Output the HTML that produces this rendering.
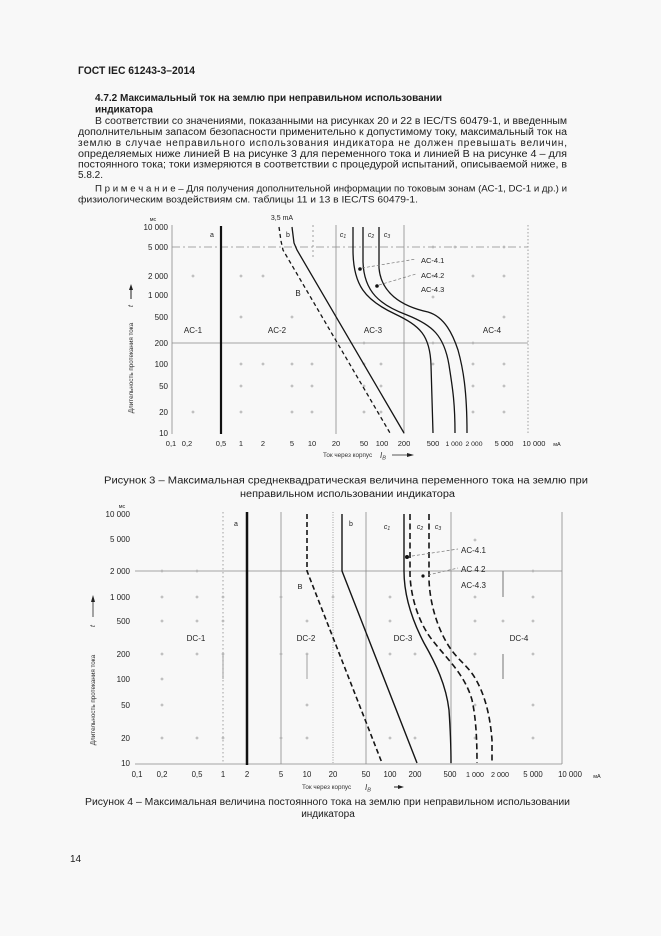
<!DOCTYPE html>
<html><head><meta charset="utf-8"><style>
html,body{margin:0;padding:0;background:#f8f8f8;}
svg{display:block;font-family:"Liberation Sans","DejaVu Sans",sans-serif;}
</style></head><body>
<svg width="661" height="936" viewBox="0 0 661 936" xmlns="http://www.w3.org/2000/svg">
<defs>
<path id="p" d="M-1.5,0h3M0,-1.5v3" stroke="#9a9a9a" stroke-width="0.7" fill="none"/>
</defs>
<rect width="661" height="936" fill="#f8f8f8"/>
<g fill="#1c1c1c">
<text x="78" y="74" font-size="11" font-weight="bold" textLength="117" lengthAdjust="spacingAndGlyphs">ГОСТ IEC 61243-3–2014</text>
<text x="95" y="101" font-size="10" font-weight="bold" textLength="347" lengthAdjust="spacingAndGlyphs">4.7.2  Максимальный ток на землю при неправильном использовании</text>
<text x="95" y="112.5" font-size="10" font-weight="bold">индикатора</text>
<text x="95" y="124" font-size="10" textLength="472" lengthAdjust="spacingAndGlyphs">В соответствии со значениями, показанными на рисунках 20 и 22 в IEC/TS 60479-1, и введенным</text>
<text x="78" y="135" font-size="10" textLength="489" lengthAdjust="spacingAndGlyphs">дополнительным  запасом  безопасности  применительно  к  допустимому  току,  максимальный  ток  на</text>
<text x="78" y="146" font-size="10" textLength="489" lengthAdjust="spacing">землю    в    случае    неправильного    использования    индикатора    не    должен    превышать    величин,</text>
<text x="78" y="157" font-size="10" textLength="489" lengthAdjust="spacingAndGlyphs">определяемых ниже линией В на рисунке 3 для переменного тока и линией В на рисунке 4 – для</text>
<text x="78" y="167.5" font-size="10" textLength="489" lengthAdjust="spacingAndGlyphs">постоянного тока; токи измеряются в соответствии с процедурой испытаний, описываемой ниже, в</text>
<text x="78" y="178" font-size="10">5.8.2.</text>
<text x="95" y="191.5" font-size="9" textLength="472" lengthAdjust="spacingAndGlyphs">П р и м е ч а н и е – Для получения дополнительной информации по токовым зонам (АС-1, DC-1 и др.) и</text>
<text x="78" y="202.5" font-size="9" textLength="340" lengthAdjust="spacingAndGlyphs">физиологическим воздействиям см. таблицы 11 и 13 в IEC/TS 60479-1.</text>
</g>

<!-- ============ CHART 1 ============ -->
<g stroke="#8a8a8a" stroke-width="0.8" fill="none">
<line x1="172" y1="225" x2="172" y2="434"/>
<line x1="336" y1="225" x2="336" y2="434"/>
<line x1="404" y1="225" x2="404" y2="434"/>
<line x1="528" y1="225" x2="528" y2="434" stroke-dasharray="1.5,2"/>
<line x1="313" y1="225" x2="313" y2="260" stroke-dasharray="2,3"/>
<line x1="172" y1="343" x2="528" y2="343"/>
<line x1="172" y1="247" x2="528" y2="247" stroke-dasharray="8,3,2,3"/>
</g>
<g>
<use href="#p" x="193" y="276"/><use href="#p" x="241" y="276"/><use href="#p" x="263" y="276"/><use href="#p" x="433" y="276"/><use href="#p" x="473" y="276"/><use href="#p" x="504" y="276"/>
<use href="#p" x="241" y="317"/><use href="#p" x="292" y="317"/><use href="#p" x="433" y="297"/><use href="#p" x="504" y="317"/>
<use href="#p" x="241" y="364"/><use href="#p" x="263" y="364"/><use href="#p" x="292" y="364"/><use href="#p" x="312" y="364"/><use href="#p" x="364" y="364"/><use href="#p" x="381" y="364"/><use href="#p" x="433" y="364"/><use href="#p" x="473" y="364"/><use href="#p" x="504" y="364"/>
<use href="#p" x="241" y="386"/><use href="#p" x="292" y="386"/><use href="#p" x="312" y="386"/><use href="#p" x="364" y="386"/><use href="#p" x="381" y="386"/><use href="#p" x="473" y="386"/><use href="#p" x="504" y="386"/>
<use href="#p" x="193" y="412"/><use href="#p" x="241" y="412"/><use href="#p" x="292" y="412"/><use href="#p" x="312" y="412"/><use href="#p" x="364" y="412"/><use href="#p" x="381" y="412"/><use href="#p" x="473" y="412"/><use href="#p" x="504" y="412"/>
<use href="#p" x="364" y="343"/><use href="#p" x="433" y="343"/><use href="#p" x="473" y="343"/><use href="#p" x="433" y="247"/><use href="#p" x="455" y="247"/><use href="#p" x="504" y="247"/>
</g>
<line x1="221" y1="226" x2="221" y2="434" stroke="#111" stroke-width="2.2"/>
<g fill="none" stroke="#151515" stroke-width="1.3">
<polyline points="292,227 294,243 297,250 404,433"/>
<polyline points="279,227 281,241 283,250 390,433" stroke-dasharray="4,3"/>
<path d="M353,227 L353,250 C353,285 365,300 395,314 C420,326 430,335 431,365 L433,433"/>
<path d="M363,227 L363,262 C364,292 380,305 407,315 C432,325 444,335 449,365 C452,385 455,400 455,433"/>
<path d="M379,227 L379,268 C381,292 400,306 428,312 C445,317 453,335 458,350 C463,368 467,390 467,433"/>
</g>
<g stroke="#777" stroke-width="0.7" stroke-dasharray="3,2" fill="none">
<line x1="362" y1="268" x2="416" y2="259"/>
<line x1="379" y1="285" x2="416" y2="274"/>
</g>
<circle cx="360" cy="269" r="1.8" fill="#111"/>
<circle cx="377" cy="286" r="1.8" fill="#111"/>
<g fill="#222" font-size="8">
<text x="168" y="230" text-anchor="end">10 000</text>
<text x="168" y="250" text-anchor="end">5 000</text>
<text x="168" y="279" text-anchor="end">2 000</text>
<text x="168" y="298" text-anchor="end">1 000</text>
<text x="168" y="320" text-anchor="end">500</text>
<text x="168" y="346" text-anchor="end">200</text>
<text x="168" y="367" text-anchor="end">100</text>
<text x="168" y="389" text-anchor="end">50</text>
<text x="168" y="415" text-anchor="end">20</text>
<text x="168" y="436" text-anchor="end">10</text>
<text x="153" y="221" font-size="5.5" text-anchor="middle">мс</text>
</g>
<g fill="#222" font-size="7.5" text-anchor="middle">
<text x="171" y="446">0,1</text><text x="187" y="446">0,2</text><text x="221" y="446">0,5</text><text x="241" y="446">1</text>
<text x="263" y="446">2</text><text x="292" y="446">5</text><text x="312" y="446">10</text><text x="336" y="446">20</text>
<text x="364" y="446">50</text><text x="382" y="446">100</text><text x="404" y="446">200</text><text x="433" y="446">500</text>
<text x="454" y="446" font-size="6.8">1 000</text><text x="474" y="446" font-size="6.8">2 000</text><text x="504" y="446">5 000</text><text x="534" y="446">10 000</text>
<text x="557" y="446" font-size="5.5">мА</text>
</g>
<g fill="#222" font-size="8" text-anchor="middle">
<text x="193" y="333">AC-1</text><text x="277" y="333">AC-2</text><text x="373" y="333">AC-3</text><text x="492" y="333">AC-4</text>
<text x="282" y="220" font-size="7">3,5 mA</text>
<text x="212" y="237" font-size="7">a</text>
<text x="288" y="237" font-size="7">b</text>
<text x="298" y="296">B</text>
<text x="343" y="237" font-size="7" font-style="italic">c<tspan font-size="5" dy="1">1</tspan></text>
<text x="371" y="237" font-size="7" font-style="italic">c<tspan font-size="5" dy="1">2</tspan></text>
<text x="387" y="237" font-size="7" font-style="italic">c<tspan font-size="5" dy="1">3</tspan></text>
</g>
<g fill="#222" font-size="7.5">
<text x="421" y="263">AC-4.1</text><text x="421" y="278">AC-4.2</text><text x="421" y="292">AC-4.3</text>
</g>
<text transform="translate(133,368) rotate(-90)" font-size="6.3" fill="#333" text-anchor="middle">Длительность протекания тока</text>
<text transform="translate(133,306) rotate(-90)" font-size="7" fill="#333" font-style="italic" text-anchor="middle">t</text>
<line x1="131" y1="299" x2="131" y2="288" stroke="#222" stroke-width="1"/>
<path d="M129,290 L131,284 L133,290 Z" fill="#222"/>
<text x="323" y="457" font-size="6.3" fill="#333">Ток через корпус</text>
<text x="380" y="458" font-size="8" fill="#333" font-style="italic">I<tspan font-size="5.5" dy="1.5">B</tspan></text>
<line x1="392" y1="455" x2="409" y2="455" stroke="#222" stroke-width="0.8"/>
<path d="M407,453 L414,455 L407,457 Z" fill="#222"/>

<g fill="#1c1c1c" font-size="10">
<text x="104" y="483.5" textLength="484" lengthAdjust="spacingAndGlyphs">Рисунок 3 – Максимальная среднеквадратическая величина переменного тока на землю при</text>
<text x="240" y="497" textLength="215" lengthAdjust="spacingAndGlyphs">неправильном использовании индикатора</text>
</g>

<!-- ============ CHART 2 ============ -->
<g stroke="#8a8a8a" stroke-width="0.8" fill="none">
<line x1="135" y1="764" x2="562" y2="764"/>
<line x1="135" y1="571" x2="562" y2="571"/>
<line x1="223" y1="512" x2="223" y2="764" stroke-dasharray="1.5,2.5"/>
<line x1="281" y1="512" x2="281" y2="764"/>
<line x1="333" y1="512" x2="333" y2="764" stroke-dasharray="1,1.5"/>
<line x1="366" y1="512" x2="366" y2="764"/>
<line x1="451" y1="512" x2="451" y2="764"/>
<line x1="562" y1="512" x2="562" y2="764"/>
<line x1="503" y1="571" x2="503" y2="597" stroke-width="1.2"/>
<line x1="503" y1="654" x2="503" y2="679" stroke-width="1.2"/>
<line x1="223" y1="654" x2="223" y2="679"/>
<line x1="307" y1="654" x2="307" y2="679"/>
</g>
<g>
<use href="#p" x="162" y="597"/><use href="#p" x="197" y="597"/><use href="#p" x="223" y="597"/><use href="#p" x="281" y="597"/><use href="#p" x="333" y="597"/><use href="#p" x="390" y="597"/><use href="#p" x="475" y="597"/><use href="#p" x="503" y="621"/><use href="#p" x="533" y="597"/>
<use href="#p" x="162" y="621"/><use href="#p" x="197" y="621"/><use href="#p" x="223" y="621"/><use href="#p" x="307" y="621"/><use href="#p" x="390" y="621"/><use href="#p" x="475" y="621"/><use href="#p" x="533" y="621"/>
<use href="#p" x="162" y="654"/><use href="#p" x="197" y="654"/><use href="#p" x="223" y="654"/><use href="#p" x="281" y="654"/><use href="#p" x="307" y="654"/><use href="#p" x="390" y="654"/><use href="#p" x="415" y="654"/><use href="#p" x="475" y="654"/><use href="#p" x="533" y="654"/>
<use href="#p" x="162" y="679"/><use href="#p" x="162" y="705"/><use href="#p" x="307" y="705"/><use href="#p" x="475" y="705"/><use href="#p" x="533" y="705"/>
<use href="#p" x="162" y="738"/><use href="#p" x="197" y="738"/><use href="#p" x="223" y="738"/><use href="#p" x="281" y="738"/><use href="#p" x="307" y="738"/><use href="#p" x="390" y="738"/><use href="#p" x="415" y="738"/><use href="#p" x="475" y="738"/><use href="#p" x="533" y="738"/>
<use href="#p" x="162" y="571"/><use href="#p" x="197" y="571"/><use href="#p" x="533" y="571"/><use href="#p" x="475" y="540"/>
</g>
<line x1="247" y1="512" x2="247" y2="765" stroke="#111" stroke-width="2.5"/>
<g fill="none" stroke="#151515" stroke-width="1.4">
<polyline points="307,514 307,571 382,763" stroke-dasharray="5,3" stroke-width="1.6"/>
<polyline points="342,514 342,571 417,763"/>
<path d="M404,514 L404,571 C404,595 412,620 424,643 C436,664 446,685 449,710 C450,725 451,740 451,763"/>
<path d="M410,514 L410,575 C411,600 420,625 433,641 C448,660 465,675 472,700 C476,718 477,740 477,763" stroke-dasharray="6,3.5" stroke-width="1.6"/>
<path d="M429,514 L429,580 C430,605 438,630 450,648 C458,660 468,666 475,678 C485,695 490,715 492,740 L492,763" stroke-dasharray="6,3.5" stroke-width="1.6"/>
</g>
<g stroke="#777" stroke-width="0.7" stroke-dasharray="3,2" fill="none">
<line x1="412" y1="556" x2="458" y2="549"/>
<line x1="428" y1="575" x2="458" y2="568"/>
</g>
<circle cx="407" cy="557" r="2" fill="#111"/>
<circle cx="423" cy="576" r="1.6" fill="#111"/>
<g fill="#222" font-size="8">
<text x="130" y="517" text-anchor="end">10 000</text>
<text x="130" y="542" text-anchor="end">5 000</text>
<text x="130" y="574" text-anchor="end">2 000</text>
<text x="130" y="600" text-anchor="end">1 000</text>
<text x="130" y="624" text-anchor="end">500</text>
<text x="130" y="657" text-anchor="end">200</text>
<text x="130" y="682" text-anchor="end">100</text>
<text x="130" y="708" text-anchor="end">50</text>
<text x="130" y="741" text-anchor="end">20</text>
<text x="130" y="766" text-anchor="end">10</text>
<text x="122" y="508" font-size="5.5" text-anchor="middle">мс</text>
</g>
<g fill="#222" font-size="7.8" text-anchor="middle">
<text x="137" y="777">0,1</text><text x="162" y="777">0,2</text><text x="197" y="777">0,5</text><text x="223" y="777">1</text>
<text x="247" y="777">2</text><text x="281" y="777">5</text><text x="307" y="777">10</text><text x="333" y="777">20</text>
<text x="366" y="777">50</text><text x="390" y="777">100</text><text x="415" y="777">200</text><text x="450" y="777">500</text>
<text x="475" y="777" font-size="7.2">1 000</text><text x="500" y="777" font-size="7.2">2 000</text><text x="533" y="777">5 000</text><text x="570" y="777">10 000</text>
<text x="597" y="778" font-size="5.5">мА</text>
</g>
<g fill="#222" font-size="8" text-anchor="middle">
<text x="196" y="641">DC-1</text><text x="306" y="641">DC-2</text><text x="403" y="641">DC-3</text><text x="519" y="641">DC-4</text>
<text x="236" y="526" font-size="7">a</text>
<text x="351" y="526" font-size="7">b</text>
<text x="300" y="589" font-size="7.5">B</text>
<text x="387" y="529" font-size="7" font-style="italic">c<tspan font-size="5" dy="1">1</tspan></text>
<text x="420" y="529" font-size="7" font-style="italic">c<tspan font-size="5" dy="1">2</tspan></text>
<text x="438" y="529" font-size="7" font-style="italic">c<tspan font-size="5" dy="1">3</tspan></text>
</g>
<g fill="#222" font-size="8">
<text x="461" y="553">AC-4.1</text><text x="461" y="572">AC 4 2</text><text x="461" y="588">AC-4.3</text>
</g>
<text transform="translate(95,700) rotate(-90)" font-size="6.3" fill="#333" text-anchor="middle">Длительность протекания тока</text>
<text transform="translate(95,626) rotate(-90)" font-size="7" fill="#333" font-style="italic" text-anchor="middle">t</text>
<line x1="93" y1="617" x2="93" y2="600" stroke="#222" stroke-width="0.8"/>
<path d="M91,602 L93,595 L95,602 Z" fill="#222"/>
<text x="302" y="789" font-size="6.3" fill="#333">Ток через корпус</text>
<text x="365" y="790" font-size="8" fill="#333" font-style="italic">I<tspan font-size="5.5" dy="1.5">B</tspan></text>
<line x1="394" y1="787" x2="400" y2="787" stroke="#222" stroke-width="1"/>
<path d="M398,785 L404,787 L398,789 Z" fill="#222"/>

<g fill="#1c1c1c" font-size="10">
<text x="85" y="805" textLength="485" lengthAdjust="spacingAndGlyphs">Рисунок 4 – Максимальная величина постоянного тока на землю при неправильном использовании</text>
<text x="328" y="817" text-anchor="middle">индикатора</text>
<text x="70" y="862">14</text>
</g>
</svg>
</body></html>
